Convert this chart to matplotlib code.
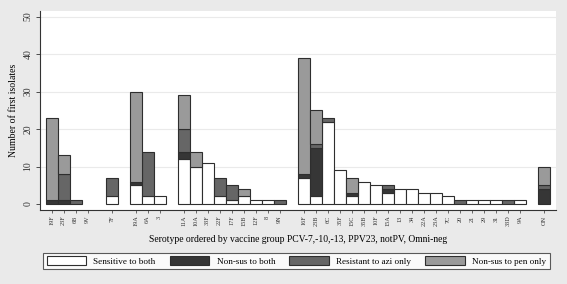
import matplotlib
matplotlib.use("Agg")
import matplotlib.pyplot as plt
from matplotlib.patches import Patch

# ---- data ----
groups = [
    ["19F", "23F", "6B", "9V"],
    ["7F"],
    ["19A", "6A", "3"],
    ["11A", "10A", "33F", "22F", "17F", "15B", "12F", "8", "9N"],
    ["16F", "23B", "6C", "35F", "15C", "35B", "10F", "15A", "13", "34",
     "22A", "23A", "7C", "20", "21", "29", "31", "33D", "9A"],
    ["ON"],
]
serotypes = [s for g in groups for s in g]

sensitive_both = [0, 0, 0, 0,
                  2,
                  5, 2, 2,
                  12, 10, 11, 2, 1, 2, 1, 1, 0,
                  7, 2, 22, 9, 2, 6, 5, 3, 4, 4, 3, 3, 2, 0, 1, 1, 1, 0, 1,
                  0]
nonsus_both = [1, 1, 0, 0,
               0,
               1, 0, 0,
               2, 0, 0, 0, 0, 0, 0, 0, 0,
               1, 13, 0, 0, 1, 0, 0, 1, 0, 0, 0, 0, 0, 0, 0, 0, 0, 0, 0,
               4]
resistant_azi = [0, 7, 1, 0,
                 5,
                 0, 12, 0,
                 6, 0, 0, 5, 4, 0, 0, 0, 1,
                 0, 1, 1, 0, 0, 0, 0, 1, 0, 0, 0, 0, 0, 1, 0, 0, 0, 1, 0,
                 1]
nonsus_pen = [22, 5, 0, 0,
              0,
              24, 0, 0,
              9, 4, 0, 0, 0, 2, 0, 0, 0,
              31, 9, 0, 0, 4, 0, 0, 0, 0, 0, 0, 0, 0, 0, 0, 0, 0, 0, 0,
              5]

series_labels = ["Sensitive to both", "Non-sus to both",
                 "Resistant to azi only", "Non-sus to pen only"]
series_colors = ["#ffffff", "#363636", "#666666", "#9a9a9a"]
y_ticks = [0, 10, 20, 30, 40, 50]

# ---- positions (one empty slot between groups) ----
positions = []
p = 0
for g in groups:
    for _ in g:
        positions.append(p)
        p += 1
    p += 1

plt.rcParams["font.family"] = ["Liberation Serif", "DejaVu Serif"]

fig = plt.figure(figsize=(5.67, 2.84), dpi=100, facecolor="#eaeaea")
ax = fig.add_axes([0.0697, 0.2606, 0.9109, 0.7007])
ax.set_facecolor("white")

series = [sensitive_both, nonsus_both, resistant_azi, nonsus_pen]
bottom = [0] * len(serotypes)
for vals, col in zip(series, series_colors):
    xs = [x for x, v in zip(positions, vals) if v > 0]
    hs = [v for v in vals if v > 0]
    bs = [b for b, v in zip(bottom, vals) if v > 0]
    ax.bar(xs, hs, width=1.0, bottom=bs, color=col,
           edgecolor="#2e2e2e", linewidth=0.8, zorder=3)
    bottom = [b + v for b, v in zip(bottom, vals)]

ax.set_xlim(-1.0, positions[-1] + 1.0)
ax.set_ylim(-1.6, 51.5)
ax.set_yticks(y_ticks)
ax.set_yticklabels([str(t) for t in y_ticks], rotation=90, va="center",
                   fontsize=7)
for t in y_ticks[1:]:
    ax.axhline(t, color="#eaeaea", linewidth=0.8, zorder=1)

ax.set_xticks(positions)
ax.set_xticklabels(serotypes, rotation=90, fontsize=4.5)
ax.tick_params(axis="x", length=2, width=0.5, pad=2, colors="#333333")
ax.tick_params(axis="y", length=3, width=0.6, pad=2, colors="#333333")

for s in ["top", "right"]:
    ax.spines[s].set_visible(False)
for s in ["left", "bottom"]:
    ax.spines[s].set_color("#333333")
    ax.spines[s].set_linewidth(0.8)

ax.set_ylabel("Number of first isolates", fontsize=7, labelpad=4)
ax.set_xlabel("Serotype ordered by vaccine group PCV-7,-10,-13, PPV23, notPV, Omni-neg",
              fontsize=6.9, labelpad=6)

handles = [Patch(facecolor=c, edgecolor="#2e2e2e", linewidth=0.8)
           for c in series_colors]
leg = fig.legend(handles, series_labels, loc="center",
                 bbox_to_anchor=(43 / 567, 1 - 272 / 284, 507 / 567, 22 / 284),
                 mode="expand", ncol=4, fontsize=6.6,
                 frameon=True, fancybox=False, edgecolor="#333333",
                 handlelength=4.3, handleheight=1.1, handletextpad=0.8,
                 borderpad=0.4, borderaxespad=0)
leg.get_frame().set_linewidth(0.8)

fig.savefig("out.png", dpi=100, facecolor=fig.get_facecolor())
